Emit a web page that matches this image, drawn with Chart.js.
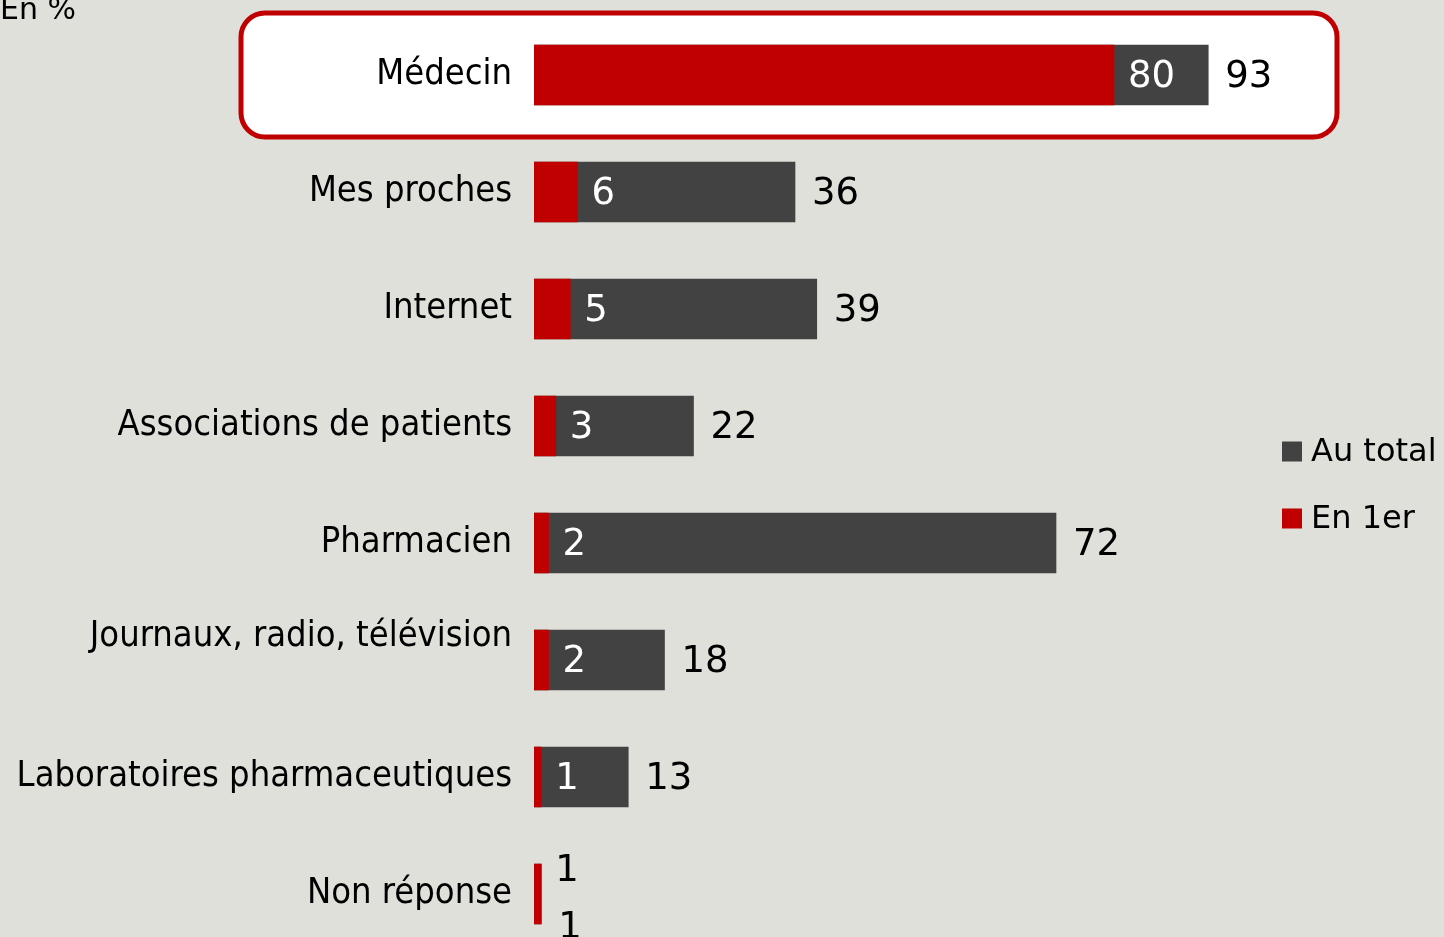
<!DOCTYPE html>
<html lang="fr">
<head>
    <meta charset="UTF-8">
    <meta name="viewport" content="width=device-width, initial-scale=1.0">
    <title>Sources d'information</title>
    <style>
        html, body {
            margin: 0;
            padding: 0;
            background: #dfe0da;
            overflow: hidden;
        }
        canvas {
            display: block;
        }
    </style>
</head>
<body>
    <canvas id="sourcesChart" width="1444" height="960"></canvas>

    <script src="https://cdn.jsdelivr.net/npm/chart.js"></script>
    <script>

        const categories = [
            'Médecin',
            'Mes proches',
            'Internet',
            'Associations de patients',
            'Pharmacien',
            'Journaux, radio, télévision',
            'Laboratoires pharmaceutiques',
            'Non réponse'
        ];
        const enPremier = [80, 6, 5, 3, 2, 2, 1, 1];
        const auTotal = [93, 36, 39, 22, 72, 18, 13, 1];
        const seriesNames = ['Au total', 'En 1er'];
        const unitLabel = 'En %';
        const highlighted = 'Médecin';
        // in the source this label sits on the upper line of two
        const raisedLabel = 'Journaux, radio, télévision';

        const RED = '#c00000';
        const GREY = '#424242';
        const LABEL_FONT = '"DejaVu Sans Condensed", "Liberation Sans", sans-serif';

        // background, "En %" and the white box behind the highlighted row
        const backdrop = {
            id: 'backdrop',
            beforeDraw(chart) {
                const ctx = chart.ctx;
                ctx.save();
                ctx.fillStyle = '#dfe0da';
                ctx.fillRect(0, 0, chart.width, chart.height);

                const y = chart.scales.y.getPixelForValue(categories.indexOf(highlighted));
                ctx.beginPath();
                ctx.roundRect(241, y - 62, 1096, 124, 24);
                ctx.fillStyle = '#ffffff';
                ctx.fill();
                ctx.lineWidth = 5;
                ctx.strokeStyle = RED;
                ctx.stroke();

                ctx.fillStyle = '#000';
                ctx.font = '30px "DejaVu Sans"';
                ctx.textBaseline = 'alphabetic';
                ctx.fillText(unitLabel, 0, 19);
                ctx.restore();
            }
        };

        // "En 1er" inside the bar, "Au total" after it
        const valueLabels = {
            id: 'valueLabels',
            afterDatasetsDraw(chart) {
                const ctx = chart.ctx;
                const totalMeta = chart.getDatasetMeta(0);
                const firstMeta = chart.getDatasetMeta(1);
                ctx.save();
                ctx.font = '37px "DejaVu Sans"';
                ctx.textAlign = 'left';
                ctx.textBaseline = 'middle';
                categories.forEach((c, i) => {
                    const t = totalMeta.data[i];
                    const f = firstMeta.data[i];
                    const xIn = f.x + 14;
                    const xOut = t.x + 17;
                    let yIn = f.y + 2;
                    let yOut = t.y + 2;
                    let inColor = '#ffffff';
                    if (xOut - xIn < 30) {
                        // both labels would sit on top of each other
                        yIn -= 25;
                        yOut += 32;
                        inColor = '#000';
                    }
                    ctx.fillStyle = inColor;
                    ctx.fillText(enPremier[i], xIn, yIn);
                    ctx.fillStyle = '#000';
                    ctx.fillText(auTotal[i], xOut, yOut);
                });
                ctx.restore();
            }
        };

        const sideLegend = {
            id: 'sideLegend',
            afterDraw(chart) {
                const ctx = chart.ctx;
                const area = chart.chartArea;
                const colors = [GREY, RED];
                const mid = (area.top + area.bottom) / 2;
                ctx.save();
                ctx.font = '32px "DejaVu Sans"';
                ctx.textBaseline = 'middle';
                seriesNames.forEach((name, i) => {
                    const y = mid - 33 + i * 67;
                    ctx.fillStyle = colors[i];
                    ctx.fillRect(area.right + 23, y - 10, 20, 20);
                    ctx.fillStyle = '#000';
                    ctx.fillText(name, area.right + 52, y + 1);
                });
                ctx.restore();
            }
        };

        const ctx = document.getElementById('sourcesChart').getContext('2d');
        const chart = new Chart(ctx, {
            type: 'bar',
            data: {
                labels: categories.map(c => c === raisedLabel ? [c, ''] : c),
                datasets: [{
                    label: seriesNames[0],
                    data: auTotal,
                    backgroundColor: GREY,
                    order: 1
                }, {
                    label: seriesNames[1],
                    data: enPremier,
                    backgroundColor: RED,
                    order: 0
                }]
            },
            options: {
                indexAxis: 'y',
                responsive: false,
                animation: false,
                layout: {
                    padding: { top: 16.5, bottom: 7.5, left: 0, right: 185 }
                },
                datasets: {
                    bar: {
                        grouped: false,
                        barThickness: 60,
                        borderWidth: 0
                    }
                },
                scales: {
                    x: {
                        display: false,
                        min: 0,
                        max: 100
                    },
                    y: {
                        grid: { display: false, drawTicks: false },
                        border: { display: false },
                        ticks: {
                            color: '#000',
                            padding: 22,
                            font: { family: LABEL_FONT, size: 36, lineHeight: 1.3 }
                        },
                        afterFit(scale) {
                            scale.width = 534;
                            scale.paddingTop = 0;
                            scale.paddingBottom = 0;
                        }
                    }
                },
                plugins: {
                    legend: { display: false },
                    tooltip: { enabled: false }
                }
            },
            plugins: [backdrop, valueLabels, sideLegend]
        });
    </script>
</body>
</html>
